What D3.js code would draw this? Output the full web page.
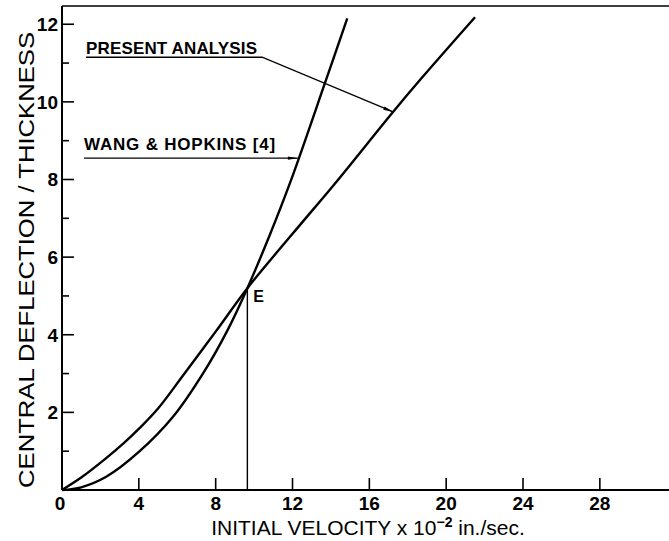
<!DOCTYPE html>
<html>
<head>
<meta charset="utf-8">
<script src="https://cdn.jsdelivr.net/npm/d3@7"></script>
<style>
  body { margin: 0; background: #fff; }
  text { font-family: "Liberation Sans", Arial, sans-serif; fill: #000; }
</style>
</head>
<body>
<div id="chart"></div>
<script>
// values (velocity in 1e-2 in./sec, deflection / thickness)
var presentVel  = [0, 1, 2.3, 3.2, 4.05, 5, 6.3, 8, 9.65, 12, 14.3, 17.2, 18.7, 21.5];
var presentDefl = [0, 0.32, 0.82, 1.2, 1.6, 2.1, 2.95, 4.08, 5.2, 6.6, 7.95, 9.72, 10.6, 12.18];
var wangVel     = [0, 1, 2.3, 4, 5.8, 7.4, 8.6, 9.65, 10.8, 11.9, 13.7, 14.85];
var wangDefl    = [0, 0.07, 0.34, 0.98, 1.9, 3.05, 4.1, 5.2, 6.55, 7.95, 10.5, 12.15];
var pointE      = [9.65, 5.2];
var xTicks      = [0, 4, 8, 12, 16, 20, 24, 28];
var yMajor      = [2, 4, 6, 8, 10, 12];
var yMinor      = [1, 3, 5, 7, 9, 11];

var width = 669, height = 541;

var svg = d3.select("#chart").append("svg")
  .attr("width", width)
  .attr("height", height);

var x = d3.scaleLinear().domain([0, 31.6]).range([62, 669]);
var y = d3.scaleLinear().domain([0, 12.47]).range([490, 6]);

// frame: left, bottom, top
svg.append("line")
  .attr("x1", x(0)).attr("x2", x(0))
  .attr("y1", y(0)).attr("y2", y(12.47))
  .attr("stroke", "#000").attr("stroke-width", 2);
svg.append("line")
  .attr("x1", x(0)).attr("x2", x(31.6))
  .attr("y1", y(0)).attr("y2", y(0))
  .attr("stroke", "#000").attr("stroke-width", 2);
svg.append("line")
  .attr("x1", x(0)).attr("x2", x(31.6))
  .attr("y1", y(12.47)).attr("y2", y(12.47))
  .attr("stroke", "#000").attr("stroke-width", 1.6);

// x ticks (pointing inward)
svg.selectAll("line.xtick")
  .data(xTicks.slice(1))
  .enter().append("line")
  .attr("class", "xtick")
  .attr("x1", function(d) { return x(d); })
  .attr("x2", function(d) { return x(d); })
  .attr("y1", y(0))
  .attr("y2", y(0) - 12)
  .attr("stroke", "#000").attr("stroke-width", 1.6);

svg.selectAll("text.xlab")
  .data(xTicks)
  .enter().append("text")
  .attr("class", "xlab")
  .attr("x", function(d) { return x(d) - (d === 0 ? 2 : 0); })
  .attr("y", 510)
  .attr("text-anchor", "middle")
  .attr("font-size", 19)
  .attr("font-weight", "bold")
  .text(function(d) { return d; });

// y ticks
svg.selectAll("line.ymaj")
  .data(yMajor)
  .enter().append("line")
  .attr("class", "ymaj")
  .attr("x1", x(0)).attr("x2", x(0) + 12)
  .attr("y1", function(d) { return y(d); })
  .attr("y2", function(d) { return y(d); })
  .attr("stroke", "#000").attr("stroke-width", 1.6);

svg.selectAll("line.ymin")
  .data(yMinor)
  .enter().append("line")
  .attr("class", "ymin")
  .attr("x1", x(0)).attr("x2", x(0) + 7)
  .attr("y1", function(d) { return y(d); })
  .attr("y2", function(d) { return y(d); })
  .attr("stroke", "#000").attr("stroke-width", 1.6);

svg.selectAll("text.ylab")
  .data(yMajor)
  .enter().append("text")
  .attr("class", "ylab")
  .attr("x", 58)
  .attr("y", function(d) { return y(d) + 7; })
  .attr("text-anchor", "end")
  .attr("font-size", 19)
  .attr("font-weight", "bold")
  .text(function(d) { return d; });

// axis titles
svg.append("text")
  .attr("transform", "translate(34,260) rotate(-90)")
  .attr("text-anchor", "middle")
  .attr("font-size", 22)
  .attr("textLength", 456)
  .attr("lengthAdjust", "spacingAndGlyphs")
  .text("CENTRAL DEFLECTION / THICKNESS");

var xt = svg.append("text")
  .attr("x", 368)
  .attr("y", 535)
  .attr("text-anchor", "middle")
  .attr("font-size", 21);
xt.append("tspan").text("INITIAL VELOCITY x 10");
xt.append("tspan").attr("dy", -8).attr("font-size", 14).attr("font-weight", "bold").text("−2");
xt.append("tspan").attr("dy", 8).text(" in./sec.");

// curves
var line = d3.line()
  .x(function(d) { return x(d[0]); })
  .y(function(d) { return y(d[1]); })
  .curve(d3.curveCatmullRom.alpha(0.5));

svg.append("path")
  .datum(d3.zip(presentVel, presentDefl))
  .attr("d", line)
  .attr("fill", "none")
  .attr("stroke", "#000")
  .attr("stroke-width", 2.4);

svg.append("path")
  .datum(d3.zip(wangVel, wangDefl))
  .attr("d", line)
  .attr("fill", "none")
  .attr("stroke", "#000")
  .attr("stroke-width", 2.4);

// point E and its drop line
svg.append("line")
  .attr("x1", x(pointE[0])).attr("x2", x(pointE[0]))
  .attr("y1", y(pointE[1])).attr("y2", y(0))
  .attr("stroke", "#000").attr("stroke-width", 1.4);

svg.append("text")
  .attr("x", x(pointE[0]) + 6)
  .attr("y", y(pointE[1]) + 14)
  .attr("font-size", 16)
  .attr("font-weight", "bold")
  .text("E");

// labels with leader lines and arrowheads
svg.append("defs").append("marker")
  .attr("id", "arrow")
  .attr("viewBox", "0 0 12 6")
  .attr("refX", 12).attr("refY", 3)
  .attr("markerWidth", 13).attr("markerHeight", 5)
  .attr("markerUnits", "userSpaceOnUse")
  .attr("orient", "auto")
  .append("path")
  .attr("d", "M0,1 L12,3 L0,5 Z")
  .attr("fill", "#000");

svg.append("text")
  .attr("x", x(1.25)).attr("y", y(11.24))
  .attr("font-size", 17)
  .attr("font-weight", "bold")
  .attr("textLength", 171)
  .text("PRESENT ANALYSIS");

svg.append("polyline")
  .attr("points", [[x(1.25), y(11.15)], [x(10.42), y(11.15)], [x(17.24), y(9.74)]].join(" "))
  .attr("fill", "none")
  .attr("stroke", "#000")
  .attr("stroke-width", 1.3)
  .attr("marker-end", "url(#arrow)");

svg.append("text")
  .attr("x", x(1.15)).attr("y", y(8.76))
  .attr("font-size", 17)
  .attr("font-weight", "bold")
  .attr("textLength", 191)
  .text("WANG & HOPKINS [4]");

svg.append("polyline")
  .attr("points", [[x(1.15), y(8.55)], [x(12.28), y(8.55)]].join(" "))
  .attr("fill", "none")
  .attr("stroke", "#000")
  .attr("stroke-width", 1.3)
  .attr("marker-end", "url(#arrow)");
</script>
</body>
</html>
